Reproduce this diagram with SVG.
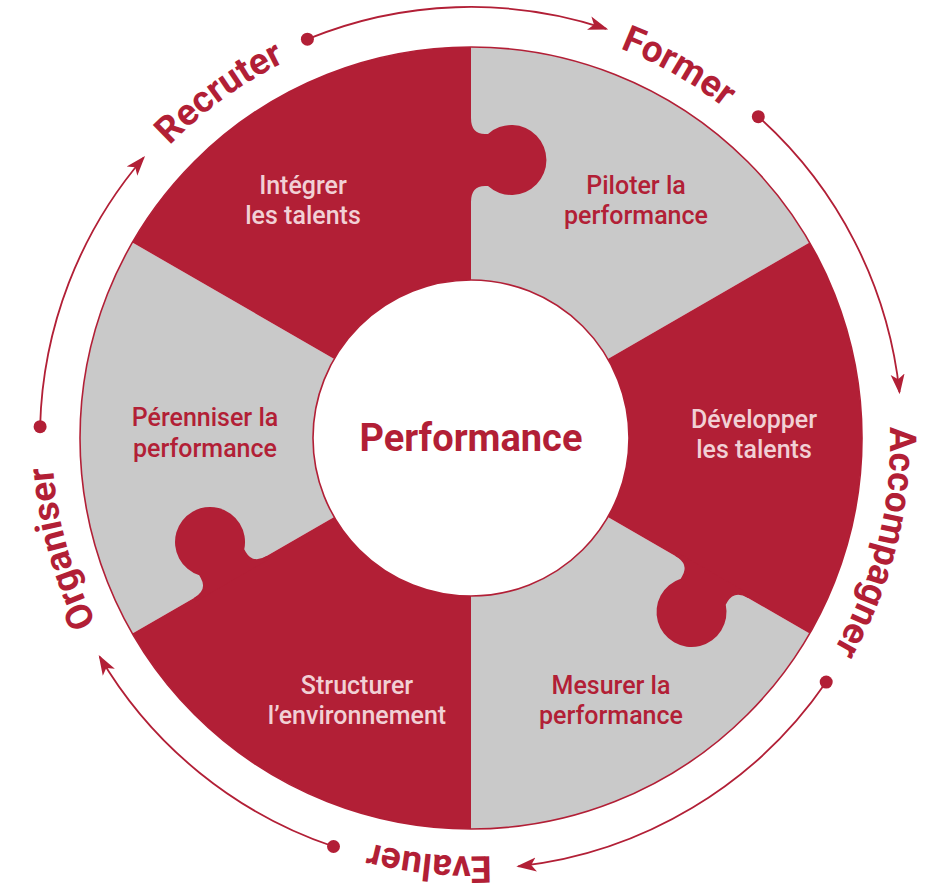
<svg xmlns="http://www.w3.org/2000/svg" width="935" height="890" viewBox="0 0 935 890">
<style>
.red{fill:#b21f36}
.gray{fill:#c9c9c9}
.pt{font-family:Roboto,'Liberation Sans',sans-serif;font-size:25px;font-weight:500;text-anchor:middle}
.lt{fill:#f1d0d5}
.dk{fill:#b21f36}
.lbl{font-family:Roboto,'Liberation Sans',sans-serif;font-size:37px;font-weight:700;fill:#b21f36;text-anchor:middle}
.arc{fill:none;stroke:#b21f36;stroke-width:1.8}
.dot{fill:#b21f36}
.rim{fill:none;stroke:#b21f36;stroke-width:1.6}
</style>
<defs>
<path id="tab" d="M467,118 L471,118 Q471,134 485,134 L488,134 A35 35 0 1 1 488,186 L485,186 Q471,186 471,202 L467,202 Z"/>
<path id="ring" d="M214.9,765.8 A416 416 0 1 1 727.1,110.2 A416 416 0 1 1 214.9,765.8"/>
<marker id="ah" viewBox="0 0 20 16" markerWidth="20" markerHeight="16" refX="18" refY="8" orient="auto" markerUnits="userSpaceOnUse">
<path d="M0,1 L20,8 L0,15 L5,8 Z" fill="#b21f36"/>
</marker>
</defs>

<g id="piloter">
<path class="gray" d="M471,47 A391 391 0 0 1 809.6,242.5 L607.8,359 A158 158 0 0 0 471,280 Z"/>
<text class="pt dk" x="636" y="194">Piloter la</text>
<text class="pt dk" x="636" y="224">performance</text>
</g>
<g id="mesurer">
<path class="gray" d="M809.6,633.5 A391 391 0 0 1 471,829 L471,596 A158 158 0 0 0 607.8,517 Z"/>
<text class="pt dk" x="611" y="694">Mesurer la</text>
<text class="pt dk" x="611" y="724">performance</text>
</g>
<g id="perenniser">
<path class="gray" d="M132.4,633.5 A391 391 0 0 1 132.4,242.5 L334.2,359 A158 158 0 0 0 334.2,517 Z"/>
<text class="pt dk" x="205" y="426">Pérenniser la</text>
<text class="pt dk" x="205" y="457">performance</text>
</g>
<g id="integrer">
<path class="red" d="M132.4,242.5 A391 391 0 0 1 471,47 L471,280 A158 158 0 0 0 334.2,359 Z"/>
<use href="#tab" class="red"/>
<text class="pt lt" x="303" y="194">Intégrer</text>
<text class="pt lt" x="303" y="224">les talents</text>
</g>
<g id="developper">
<path class="red" d="M809.6,242.5 A391 391 0 0 1 809.6,633.5 L607.8,517 A158 158 0 0 0 607.8,359 Z"/>
<use href="#tab" class="red" transform="rotate(120 471 438)"/>
<text class="pt lt" x="754" y="428">Développer</text>
<text class="pt lt" x="754" y="458">les talents</text>
</g>
<g id="structurer">
<path class="red" d="M471,829 A391 391 0 0 1 132.4,633.5 L334.2,517 A158 158 0 0 0 471,596 Z"/>
<use href="#tab" class="red" transform="rotate(240 471 438)"/>
<text class="pt lt" x="357" y="694">Structurer</text>
<text class="pt lt" x="357" y="724">l’environnement</text>
</g>
<circle class="rim" cx="471" cy="438" r="391"/>

<g id="performance">
<circle cx="471" cy="438" r="158" fill="#fff" stroke="#b21f36" stroke-width="1.6"/>
<text x="471" y="451" font-family="Roboto,'Liberation Sans',sans-serif" font-size="38" font-weight="700" fill="#b21f36" text-anchor="middle">Performance</text>
</g>

<g id="labels">
<text class="lbl"><textPath href="#ring" startOffset="10.22%">Organiser</textPath></text>
<text class="lbl"><textPath href="#ring" startOffset="29.44%">Recruter</textPath></text>
<text class="lbl"><textPath href="#ring" startOffset="47.56%">Former</textPath></text>
<text class="lbl"><textPath href="#ring" startOffset="68.42%">Accompagner</textPath></text>
<text class="lbl"><textPath href="#ring" startOffset="91.03%">Evaluer</textPath></text>
</g>

<g id="connectors">
<path class="arc" marker-end="url(#ah)" d="M307.4,39.2 A431 431 0 0 1 606.3,28.8"/>
<circle class="dot" cx="307.4" cy="39.2" r="6.5"/>
<path class="arc" marker-end="url(#ah)" d="M758.3,116.7 A431 431 0 0 1 899.5,392.2"/>
<circle class="dot" cx="758.3" cy="116.7" r="6.5"/>
<path class="arc" marker-end="url(#ah)" d="M826.2,682.1 A431 431 0 0 1 518.3,866.4"/>
<circle class="dot" cx="826.2" cy="682.1" r="6.5"/>
<path class="arc" marker-end="url(#ah)" d="M333.5,846.5 A431 431 0 0 1 99.7,656.7"/>
<circle class="dot" cx="333.5" cy="846.5" r="6.5"/>
<path class="arc" marker-end="url(#ah)" d="M40.1,426.7 A431 431 0 0 1 143.7,157.5"/>
<circle class="dot" cx="40.1" cy="426.7" r="6.5"/>
</g>
</svg>
